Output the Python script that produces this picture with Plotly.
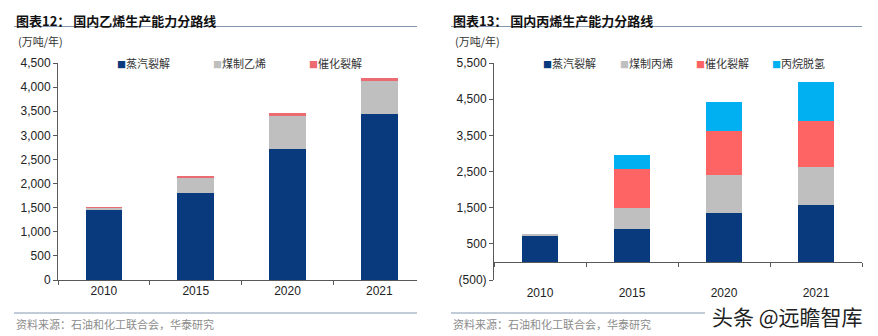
import plotly.graph_objects as go

# ---------------- data ----------------
years = ["2010", "2015", "2020", "2021"]

eth_names = ["蒸汽裂解", "煤制乙烯", "催化裂解"]
eth_steam = [1470, 1810, 2715, 3440]
eth_coal = [35, 300, 690, 690]
eth_cat = [5, 55, 62, 62]

pro_names = ["蒸汽裂解", "煤制丙烯", "催化裂解", "丙烷脱氢"]
pro_steam = [730, 905, 1355, 1570]
pro_coal = [55, 575, 1035, 1045]
pro_cat = [0, 1090, 1235, 1290]
pro_pdh = [0, 390, 785, 1065]

left_title = "图表12： 国内乙烯生产能力分路线"
right_title = "图表13： 国内丙烯生产能力分路线"
unit_text = "(万吨/年)"
source_text = "资料来源：石油和化工联合会，华泰研究"
watermark = "头条 @远瞻智库"

left_ticks = [0, 500, 1000, 1500, 2000, 2500, 3000, 3500, 4000, 4500]
right_ticks = [-500, 500, 1500, 2500, 3500, 4500, 5500]

# ---------------- style ----------------
W, H = 878, 336
NAVY = "#0A3A7E"
GRAY = "#BFBFBF"
RED_L = "#EC6A72"
RED_R = "#FF6464"
CYAN = "#00B0F0"
AXIS = "#595959"
CJK = "Noto Sans CJK SC"
LAT = "Liberation Sans, Arial"


def px(x):
    return x / W


def py(y):
    return 1 - y / H


fig = go.Figure()

eth_series = [eth_steam, eth_coal, eth_cat]
eth_colors = [NAVY, GRAY, RED_L]
for name, vals, col in zip(eth_names, eth_series, eth_colors):
    fig.add_trace(go.Bar(x=years, y=vals, name=name, marker=dict(color=col, line_width=0),
                         xaxis="x", yaxis="y", showlegend=False))

pro_series = [pro_steam, pro_coal, pro_cat, pro_pdh]
pro_colors = [NAVY, GRAY, RED_R, CYAN]
for name, vals, col in zip(pro_names, pro_series, pro_colors):
    fig.add_trace(go.Bar(x=years, y=vals, name=name, marker=dict(color=col, line_width=0),
                         xaxis="x2", yaxis="y2", showlegend=False))


def fmt(v):
    s = f"{abs(v):,}"
    return f"({s})" if v < 0 else s


ydom = [py(280), py(63)]
common_x = dict(type="category", showline=True, linecolor=AXIS, linewidth=1,
                ticks="outside", tickson="boundaries", ticklen=4, tickcolor=AXIS,
                showgrid=False, tickfont=dict(family=LAT, size=12, color="#222"),
                fixedrange=True, automargin=False)
common_y = dict(showline=True, linecolor=AXIS, linewidth=1, ticks="outside", ticklen=4,
                tickcolor=AXIS, showgrid=False, zeroline=False, automargin=False,
                tickfont=dict(family=LAT, size=12, color="#222"), fixedrange=True)

fig.update_layout(
    width=W, height=H,
    margin=dict(l=0, r=0, t=0, b=0, autoexpand=False),
    paper_bgcolor="white", plot_bgcolor="white",
    barmode="stack", bargap=0.6,
    xaxis=dict(domain=[px(58), px(417)], anchor="y", range=[-0.5, 3.41], **common_x),
    yaxis=dict(domain=ydom, anchor="x", range=[0, 4500], tickvals=left_ticks,
               ticktext=[fmt(v) for v in left_ticks], **common_y),
    xaxis2=dict(domain=[px(494), px(862)], anchor="free", position=py(261.7),
                range=[-0.5, 3.5], ticklabelstandoff=20, **common_x),
    yaxis2=dict(domain=ydom, anchor="x2", range=[-500, 5500], tickvals=right_ticks,
                ticktext=[fmt(v) for v in right_ticks], **common_y),
    showlegend=False,
)

ann = []
shapes = []
# titles, rules, units, sources
for x0, x1, x1b, title in [(14, 417, 417, left_title), (451, 862, 705, right_title)]:
    ann.append(dict(x=px(x0), y=py(20), xref="paper", yref="paper", xanchor="left",
                    yanchor="middle", showarrow=False, text=f"<b>{title}</b>",
                    font=dict(family=CJK, size=13, color="#111")))
    shapes.append(dict(type="line", xref="paper", yref="paper", x0=px(x0), x1=px(x1),
                       y0=py(26.5), y1=py(26.5), line=dict(color="#8497B0", width=1)))
    shapes.append(dict(type="line", xref="paper", yref="paper", x0=px(x0), x1=px(x1b),
                       y0=py(313), y1=py(313), line=dict(color="#8497B0", width=1)))
    ann.append(dict(x=px(x0 + 2), y=py(41), xref="paper", yref="paper", xanchor="left",
                    yanchor="middle", showarrow=False, text=unit_text,
                    font=dict(family=CJK, size=11, color="#333")))
    ann.append(dict(x=px(x0), y=py(324), xref="paper", yref="paper", xanchor="left",
                    yanchor="middle", showarrow=False, text=source_text,
                    font=dict(family=CJK, size=11, color="#8C8C8C")))

# legends
for xs, names, cols in [([115, 211, 307], eth_names, eth_colors),
                        ([541, 618, 694, 770], pro_names, pro_colors)]:
    for x, n, c in zip(xs, names, cols):
        ann.append(dict(x=px(x), y=py(63), xref="paper", yref="paper", xanchor="left",
                        yanchor="middle", showarrow=False,
                        text=f"<span style='color:{c};font-size:9px'>■</span>{n}",
                        font=dict(family=CJK, size=11, color="#333")))

ann.append(dict(x=px(787), y=py(315.5), xref="paper", yref="paper", xanchor="center",
                yanchor="middle", showarrow=False, text=watermark,
                font=dict(family=CJK, size=21, color="#222")))

fig.update_layout(annotations=ann, shapes=shapes)
fig.write_html("out.html")
